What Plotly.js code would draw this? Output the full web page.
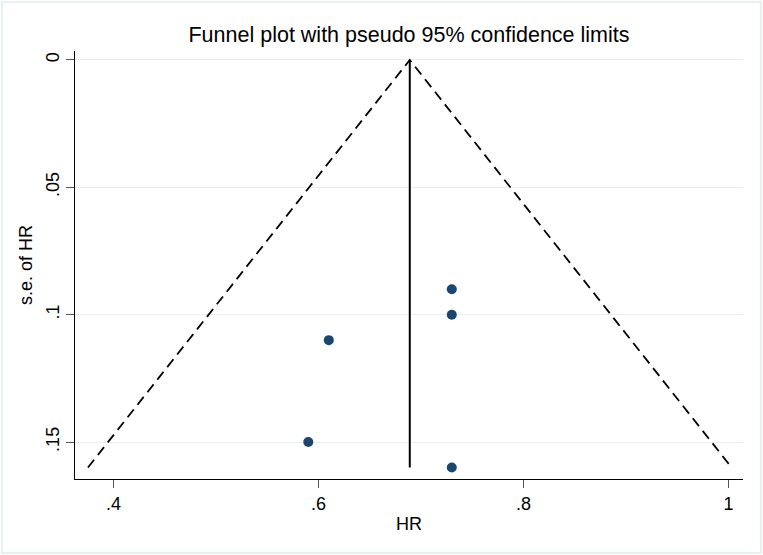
<!DOCTYPE html>
<html>
<head>
<meta charset="utf-8">
<script src="https://cdn.plot.ly/plotly-3.0.1.min.js"></script>
<style>
html,body{margin:0;padding:0;background:#fff;}
#wrap{position:relative;width:763px;height:555px;}
#chart{width:763px;height:555px;}
#frame{position:absolute;left:1px;top:1px;width:757px;height:549px;border:2px solid #e9f0f2;pointer-events:none;}
</style>
</head>
<body>
<div id="wrap"><div id="chart"></div><div id="frame"></div></div>
<script>
// Study estimates
const hr = [0.73, 0.73, 0.61, 0.59, 0.73];
const se = [0.09, 0.10, 0.11, 0.15, 0.16];
// Pooled estimate line
const pooledX = [0.689, 0.689];
const pooledY = [0, 0.16];
// Pseudo 95% confidence limits
const limitX = [0.375, 0.689, 1.003];
const limitY = [0.16, 0, 0.16];
// Ticks
const xTickVals = [0.4, 0.6, 0.8, 1];
const xTickText = ['.4', '.6', '.8', '1'];
const yTickVals = [0, 0.05, 0.1, 0.15];
const yTickText = ['0', '.05', '.1', '.15'];

const font = 'Liberation Sans, Arial, sans-serif';

const traces = [
  {x: limitX, y: limitY, mode: 'lines', type: 'scatter',
   line: {color: '#000', width: 1.8, dash: '10px,6px'}, hoverinfo: 'skip', cliponaxis: false},
  {x: pooledX, y: pooledY, mode: 'lines', type: 'scatter',
   line: {color: '#000', width: 2}, hoverinfo: 'skip', cliponaxis: false},
  {x: hr, y: se, mode: 'markers', type: 'scatter',
   marker: {color: '#1a476f', size: 10}}
];

const layout = {
  width: 763, height: 555,
  margin: {l: 75, r: 20, t: 51, b: 76},
  paper_bgcolor: '#fff', plot_bgcolor: '#fff',
  showlegend: false,
  font: {family: font, size: 18, color: '#000'},
  title: {text: 'Funnel plot with pseudo 95% confidence limits',
          font: {family: font, size: 21.5, color: '#000'},
          x: 0.5, xref: 'paper', xanchor: 'center', y: 0.937, yref: 'container', yanchor: 'middle'},
  xaxis: {
    range: [0.3624, 1.0141],
    tickmode: 'array', tickvals: xTickVals, ticktext: xTickText,
    ticks: 'outside', ticklen: 8, tickcolor: '#555', tickwidth: 1,
    showline: true, linecolor: '#000', linewidth: 1,
    showgrid: false, zeroline: false,
    tickfont: {family: font, size: 18, color: '#000'},
    title: {text: 'HR', font: {family: font, size: 18, color: '#000'}, standoff: 4}
  },
  yaxis: {
    range: [0.1645, -0.0035],
    tickmode: 'array', tickvals: yTickVals, ticktext: yTickText,
    tickangle: -90,
    ticks: 'outside', ticklen: 8, tickcolor: '#555', tickwidth: 1,
    showline: true, linecolor: '#000', linewidth: 1,
    showgrid: true, gridcolor: '#e6eff1', gridwidth: 1,
    zeroline: false,
    tickfont: {family: font, size: 18, color: '#000'},
    title: {text: 's.e. of HR', font: {family: font, size: 18, color: '#000'}, standoff: 5}
  }
};

Plotly.newPlot('chart', traces, layout, {displayModeBar: false, staticPlot: true});
</script>
</body>
</html>
